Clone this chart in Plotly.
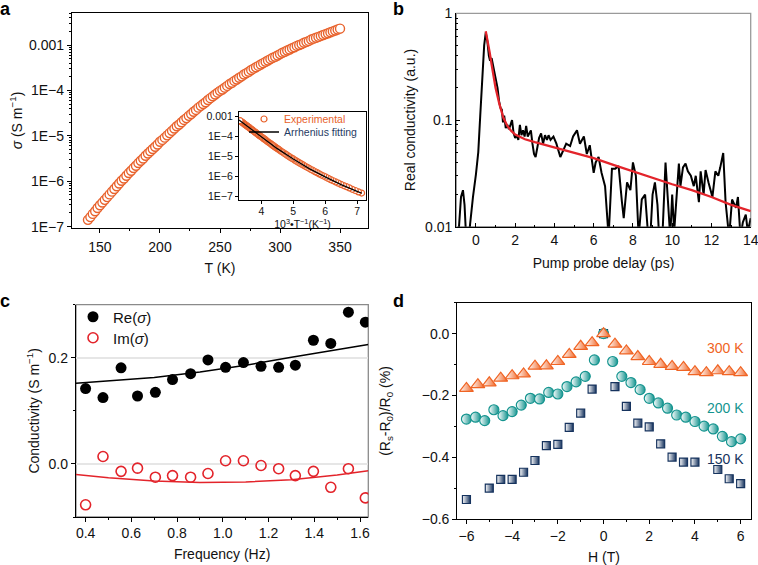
import plotly.graph_objects as go

# ---------------- data ----------------
# panel a : sigma(T)
T_K = [140, 142, 144, 146, 148, 150, 152, 154, 156, 158, 160, 162, 164, 166, 168, 170,
       172, 174, 176, 178, 180, 182, 184, 186, 188, 190, 192, 194, 196, 198, 200,
       202, 204, 206, 208, 210, 212, 214, 216, 218, 220, 222, 224, 226, 228, 230,
       232, 234, 236, 238, 240, 242, 244, 246, 248, 250, 252, 254, 256, 258, 260,
       262, 264, 266, 268, 270, 272, 274, 276, 278, 280, 282, 284, 286, 288, 290,
       292, 294, 296, 298, 300, 302, 304, 306, 308, 310, 312, 314, 316, 318, 320,
       322, 324, 326, 328, 330, 332, 334, 336, 338, 340, 342, 344, 346, 348, 350]
log10_sigma = [-6.85, -6.79, -6.72, -6.66, -6.59, -6.53, -6.47, -6.41, -6.35, -6.29, -6.23,
               -6.17, -6.11, -6.05, -5.99, -5.94, -5.88, -5.82, -5.77, -5.71, -5.66,
               -5.60, -5.55, -5.50, -5.44, -5.39, -5.34, -5.29, -5.24, -5.19, -5.13,
               -5.09, -5.04, -4.99, -4.94, -4.89, -4.84, -4.79, -4.75, -4.70, -4.65,
               -4.61, -4.56, -4.52, -4.47, -4.43, -4.38, -4.34, -4.30, -4.26, -4.21,
               -4.17, -4.13, -4.09, -4.05, -4.01, -3.98, -3.94, -3.90, -3.86, -3.83,
               -3.79, -3.76, -3.72, -3.69, -3.65, -3.62, -3.59, -3.55, -3.52, -3.49,
               -3.46, -3.43, -3.40, -3.37, -3.34, -3.31, -3.28, -3.26, -3.23, -3.20,
               -3.17, -3.15, -3.12, -3.10, -3.07, -3.05, -3.02, -3.00, -2.98, -2.95,
               -2.93, -2.91, -2.88, -2.86, -2.84, -2.82, -2.80, -2.78, -2.76, -2.74,
               -2.72, -2.70, -2.68, -2.66, -2.64]
sigma = [10 ** v for v in log10_sigma]

# inset : Arrhenius plot
inset_T = [t for t in T_K if t <= 300]
inset_x = [1000.0 / t for t in inset_T]
inset_sigma = [s for t, s in zip(T_K, sigma) if t <= 300]
arr_fit_x = [3.30, 3.60, 4.00, 4.50, 5.00, 5.50, 6.00, 6.50, 7.00, 7.15]
arr_fit_log = [-3.16, -3.53, -4.01, -4.61, -5.13, -5.62, -6.03, -6.42, -6.76, -6.86]
arr_fit_y = [10 ** v for v in arr_fit_log]

# panel b : transient conductivity
b_delay = [-1.0, -0.88, -0.76, -0.66, -0.58, -0.5, -0.4, -0.3, -0.15, 0.0, 0.12, 0.22, 0.32,
           0.42, 0.5, 0.58, 0.66, 0.72, 0.8, 0.86, 0.95, 1.03, 1.1, 1.18, 1.25, 1.32, 1.38,
           1.44, 1.52, 1.6, 1.68, 1.76, 1.84, 1.92, 2.0, 2.08, 2.16, 2.24, 2.32, 2.4, 2.48,
           2.56, 2.64, 2.72, 2.8, 2.88, 2.96, 3.04, 3.12, 3.22, 3.32, 3.42, 3.52, 3.62, 3.7,
           3.8, 3.95, 4.1, 4.3, 4.45, 4.6, 4.8, 4.95, 5.15, 5.3, 5.5, 5.65, 5.8, 6.0, 6.1,
           6.25, 6.4, 6.58, 6.76, 6.93, 7.1, 7.27, 7.44, 7.53, 7.7, 7.87, 8.0, 8.15, 8.29,
           8.45, 8.62, 8.78, 8.9, 9.0, 9.12, 9.25, 9.35, 9.5, 9.66, 9.8, 9.9, 10.0, 10.1,
           10.34, 10.42, 10.55, 10.68, 10.8, 10.95, 11.1, 11.2, 11.36, 11.45, 11.6, 11.7,
           11.85, 12.05, 12.2, 12.35, 12.45, 12.6, 12.72, 12.8, 12.9, 13.05, 13.25, 13.35,
           13.48, 13.6, 13.75, 13.85, 14.0]
b_real = [0.006, 0.009, 0.019, 0.022, 0.016, 0.008, 0.007, 0.011, 0.019, 0.031, 0.05, 0.11,
          0.25, 0.5, 0.66, 0.55, 0.40, 0.36, 0.38, 0.33, 0.27, 0.22, 0.2, 0.15, 0.13, 0.125,
          0.095, 0.11, 0.084, 0.09, 0.082, 0.09, 0.1, 0.075, 0.068, 0.072, 0.065, 0.09, 0.072,
          0.08, 0.07, 0.088, 0.07, 0.075, 0.08, 0.06, 0.048, 0.045, 0.055, 0.068, 0.075, 0.06,
          0.072, 0.065, 0.072, 0.065, 0.07, 0.06, 0.045, 0.052, 0.06, 0.057, 0.07, 0.08, 0.06,
          0.07, 0.048, 0.058, 0.032, 0.04, 0.045, 0.032, 0.024, 0.008, 0.035, 0.035, 0.037,
          0.017, 0.012, 0.026, 0.022, 0.04, 0.03, 0.008, 0.018, 0.02, 0.008, 0.009, 0.02,
          0.026, 0.016, 0.007, 0.008, 0.04, 0.017, 0.008, 0.02, 0.009, 0.039, 0.024, 0.036,
          0.039, 0.033, 0.03, 0.024, 0.03, 0.017, 0.033, 0.02, 0.034, 0.026, 0.019, 0.033,
          0.03, 0.036, 0.049, 0.017, 0.013, 0.008, 0.018, 0.015, 0.019, 0.008, 0.011, 0.013,
          0.009, 0.012]
b_fit_delay = [0.5, 0.6, 0.7, 0.8, 0.9, 1.0, 1.2, 1.4, 1.6, 1.8, 2.0, 2.5, 3.0, 4.0, 5.0,
               6.0, 7.0, 8.0, 9.0, 10.0, 11.0, 12.0, 13.0, 14.0]
b_fit = [0.68, 0.55, 0.43, 0.33, 0.26, 0.20, 0.14, 0.105, 0.088, 0.079, 0.073, 0.066, 0.062,
         0.055, 0.049, 0.044, 0.038, 0.033, 0.029, 0.025, 0.022, 0.019, 0.016, 0.014]

# panel c : complex conductivity
c_freq = [0.400, 0.476, 0.555, 0.627, 0.705, 0.780, 0.859, 0.935, 1.012, 1.090, 1.167,
          1.244, 1.317, 1.396, 1.472, 1.549, 1.623]
c_re = [0.142, 0.125, 0.181, 0.128, 0.135, 0.159, 0.170, 0.196, 0.182, 0.191, 0.184,
        0.182, 0.186, 0.233, 0.227, 0.286, 0.267]
c_im = [-0.077, 0.014, -0.014, -0.008, -0.025, -0.022, -0.025, -0.018, 0.006, 0.006,
        -0.003, -0.009, -0.022, -0.014, -0.044, -0.009, -0.064]
c_fit_freq = [0.358, 0.5, 0.7, 0.9, 1.1, 1.3, 1.5, 1.636]
c_re_fit = [0.152, 0.156, 0.163, 0.173, 0.186, 0.201, 0.215, 0.225]
c_im_fit = [-0.020, -0.026, -0.032, -0.035, -0.034, -0.030, -0.021, -0.013]

# panel d : magnetoresistance
H_300 = [-6, -5.5, -5, -4.5, -4, -3.5, -3, -2.5, -2, -1.5, -1, -0.5, 0, 0.5, 1, 1.5, 2,
         2.5, 3, 3.5, 4, 4.5, 5, 5.5, 6]
MR_300 = [-0.177, -0.165, -0.159, -0.144, -0.136, -0.130, -0.105, -0.104, -0.090, -0.067,
          -0.041, -0.029, 0.0, -0.034, -0.056, -0.074, -0.090, -0.099, -0.106, -0.109,
          -0.123, -0.126, -0.120, -0.123, -0.126]
H_200 = [-6, -5.6, -5.2, -4.8, -4.4, -4, -3.6, -3.2, -2.8, -2.4, -2, -1.6, -1.2, -0.8,
         -0.4, 0, 0.4, 0.8, 1.2, 1.6, 2, 2.4, 2.8, 3.2, 3.6, 4, 4.4, 4.8, 5.2, 5.6, 6]
MR_200 = [-0.276, -0.270, -0.281, -0.246, -0.265, -0.252, -0.231, -0.209, -0.211, -0.190,
          -0.195, -0.171, -0.156, -0.138, -0.085, 0.0, -0.090, -0.138, -0.158, -0.181,
          -0.209, -0.224, -0.241, -0.263, -0.270, -0.284, -0.299, -0.308, -0.332, -0.349,
          -0.340]
H_150 = [-6, -5, -4.5, -4, -3.5, -3, -2.5, -2, -1.5, -1, -0.5, 0, 0.5, 1, 1.5, 2, 2.5, 3,
         3.5, 4, 5, 5.5, 6]
MR_150 = [-0.536, -0.499, -0.471, -0.471, -0.448, -0.410, -0.362, -0.358, -0.303, -0.257,
          -0.179, 0.0, -0.171, -0.235, -0.289, -0.301, -0.356, -0.399, -0.415, -0.415,
          -0.439, -0.469, -0.485]

# ---------------- styling ----------------
FONT = "Liberation Sans, Arial, Helvetica, sans-serif"
ORANGE_A = "#E8622C"
ORANGE_D = "#F06424"
TEAL = "#14948F"
NAVY = "#16335E"
RED = "#E3242B"

fig = go.Figure()

# panel a
fig.add_trace(go.Scatter(x=T_K, y=sigma, mode="markers", xaxis="x", yaxis="y", showlegend=False,
                         marker=dict(symbol="circle", size=9, color="white",
                                     line=dict(color=ORANGE_A, width=1.4))))
# inset
fig.add_trace(go.Scatter(x=inset_x, y=inset_sigma, mode="markers", xaxis="x5", yaxis="y5",
                         name="<span style='color:%s'>Experimental</span>" % ORANGE_A,
                         legend="legend",
                         marker=dict(symbol="circle", size=6, color="white",
                                     line=dict(color=ORANGE_A, width=1.2))))
fig.add_trace(go.Scatter(x=arr_fit_x, y=arr_fit_y, mode="lines", xaxis="x5", yaxis="y5",
                         name="<span style='color:#1F3B63'>Arrhenius fitting</span>",
                         legend="legend3", line=dict(color="black", width=1.3)))

# panel b
fig.add_trace(go.Scatter(x=b_delay, y=b_real, mode="lines", xaxis="x2", yaxis="y2",
                         showlegend=False, line=dict(color="black", width=2)))
fig.add_trace(go.Scatter(x=b_fit_delay, y=b_fit, mode="lines", xaxis="x2", yaxis="y2",
                         showlegend=False, line=dict(color=RED, width=2.3)))

# panel c
fig.add_trace(go.Scatter(x=c_fit_freq, y=c_re_fit, mode="lines", xaxis="x3", yaxis="y3",
                         showlegend=False, line=dict(color="black", width=1.5)))
fig.add_trace(go.Scatter(x=c_fit_freq, y=c_im_fit, mode="lines", xaxis="x3", yaxis="y3",
                         showlegend=False, line=dict(color=RED, width=1.5)))
fig.add_trace(go.Scatter(x=c_freq, y=c_re, mode="markers", xaxis="x3", yaxis="y3",
                         name="Re(<i>σ</i>)", legend="legend2",
                         marker=dict(symbol="circle", size=11, color="black")))
fig.add_trace(go.Scatter(x=c_freq, y=c_im, mode="markers", xaxis="x3", yaxis="y3",
                         name="Im(<i>σ</i>)", legend="legend4",
                         marker=dict(symbol="circle-open", size=10, color=RED,
                                     line=dict(width=1.6))))

# panel d
for H, MR, sym, col, size in [(H_150, MR_150, "square", NAVY, 8),
                               (H_200, MR_200, "circle", TEAL, 10),
                               (H_300, MR_300, "triangle-up", ORANGE_D, 12)]:
    fig.add_trace(go.Scatter(x=H, y=MR, mode="markers", xaxis="x4", yaxis="y4",
                             showlegend=False,
                             marker=dict(symbol=sym, size=size, color="white",
                                         gradient=dict(type="horizontal", color=col),
                                         line=dict(color=col, width=1.2))))


def axis(**kw):
    base = dict(showline=True, linecolor="black", linewidth=1.3, ticks="outside",
                ticklen=4, tickwidth=1, tickcolor="black", showgrid=False, zeroline=False,
                automargin=False, ticklabeloverflow="allow",
                tickfont=dict(size=14, color="#111"), title=dict(font=dict(size=14, color="#111")))
    for k, v in kw.items():
        if k == "title_text":
            base["title"]["text"] = v
        elif k == "title_standoff":
            base["title"]["standoff"] = v
        elif k == "title_size":
            base["title"]["font"]["size"] = v
        else:
            base[k] = v
    return base


W, Hh = 758, 565
def dx(a, b):
    return [a / W, b / W]
def dy(top, bottom):
    return [1 - bottom / Hh, 1 - top / Hh]

def leg(x, y, size):
    return dict(x=x / W, y=1 - y / Hh, xanchor="left", yanchor="middle",
                bgcolor="rgba(0,0,0,0)", font=dict(size=size), tracegroupgap=0,
                itemwidth=30)

layout = dict(
    width=W, height=Hh, margin=dict(l=0, r=0, t=0, b=0, autoexpand=False),
    paper_bgcolor="white", plot_bgcolor="white",
    font=dict(family=FONT, color="#111"),
    # panel a
    xaxis=axis(domain=dx(72, 368), anchor="y", range=[126.7, 373.3], mirror=True,
               tickvals=[150, 200, 250, 300, 350], title_text="T (K)", title_standoff=9,
               ticklabelstandoff=2,
               minor=dict(ticks="outside", ticklen=2, dtick=25)),
    yaxis=axis(domain=dy(13, 228), anchor="x", type="log", range=[-7.03, -2.295], mirror=True,
               tickvals=[1e-7, 1e-6, 1e-5, 1e-4, 1e-3],
               ticktext=["1E−7", "1E−6", "1E−5", "1E−4", "0.001"],
               title_text="<i>σ</i> (S m<sup>−1</sup>)", title_standoff=3,
               minor=dict(ticks="outside", ticklen=2, dtick="D1")),
    # inset
    xaxis5=axis(domain=dx(239, 366), anchor="y5", range=[3.3, 7.28], mirror=True,
                tickvals=[4, 5, 6, 7], ticklen=3, tickfont=dict(size=10.5, color="#111"),
                ticklabelstandoff=-2,
                title_text="10<sup>3</sup>•T<sup>−1</sup>(K<sup>−1</sup>)", title_standoff=0,
                title_size=10.5),
    yaxis5=axis(domain=dy(112, 200), anchor="x5", type="log", range=[-7.2, -2.76], mirror=True,
                tickvals=[1e-7, 1e-6, 1e-5, 1e-4, 1e-3], ticklen=3,
                ticktext=["1E−7", "1E−6", "1E−5", "1E−4", "0.001"],
                tickfont=dict(size=10.5, color="#111")),
    # panel b
    xaxis2=axis(domain=dx(456.3, 750.7), anchor="y2", range=[-1, 14], dtick=2, tick0=0,
                ticks="inside", title_text="Pump probe delay (ps)", title_standoff=11,
                minor=dict(ticks="inside", ticklen=2, dtick=1)),
    yaxis2=axis(domain=dy(13.3, 226.7), anchor="x2", type="log", range=[-2, 0],
                ticks="inside", tickvals=[0.01, 0.1, 1], ticktext=["0.01", "0.1", "1"],
                title_text="Real conductivity (a.u.)", title_standoff=6,
                minor=dict(ticks="inside", ticklen=2, dtick="D1")),
    # panel c
    xaxis3=axis(domain=dx(76, 368.3), anchor="y3", range=[0.358, 1.636], dtick=0.2, tick0=0.4,
                tickformat=".1f", title_text="Frequency (Hz)", title_standoff=9,
                ticklabelstandoff=-1,
                minor=dict(ticks="outside", ticklen=2, dtick=0.1)),
    yaxis3=axis(domain=dy(304.7, 517), anchor="x3", range=[-0.1, 0.3], dtick=0.2, tick0=0,
                tickformat=".1f", showgrid=True, gridcolor="#E6E6E6", gridwidth=1.5,
                title_text="Conductivity (S m<sup>−1</sup>)", title_standoff=5,
                minor=dict(ticks="outside", ticklen=2, dtick=0.1)),
    # panel d
    xaxis4=axis(domain=dx(457.3, 750.7), anchor="y4", range=[-6.4, 6.44], dtick=2, tick0=0,
                mirror=True, title_text="H (T)", title_standoff=8,
                minor=dict(ticks="outside", ticklen=2, dtick=1)),
    yaxis4=axis(domain=dy(302.7, 519.3), anchor="x4", range=[-0.6, 0.1], dtick=0.2, tick0=0,
                tickformat=".1f", mirror=True, title_standoff=27,
                title_text="(R<sub>s</sub>-R<sub>0</sub>)/R<sub>0</sub> (%)",
                minor=dict(ticks="outside", ticklen=2, dtick=0.1)),
    legend=leg(244, 119, 10.5),
    legend3=leg(244, 132, 10.5),
    legend2=leg(73, 317, 15),
    legend4=leg(73, 338, 15),
    shapes=[
        dict(type="rect", xref="x2 domain", yref="y2 domain", x0=0, x1=1, y0=0, y1=1,
             line=dict(color="#9A9A9A", width=1.3), layer="below"),
        dict(type="rect", xref="x3 domain", yref="y3 domain", x0=0, x1=1, y0=0, y1=1,
             line=dict(color="#8A8A8A", width=1.3), layer="below"),
    ],
    annotations=[
        dict(text="<b>a</b>", x=5 / W, y=1 - 9 / Hh, xref="paper", yref="paper",
             showarrow=False, font=dict(size=18, color="black"), xanchor="center", yanchor="middle"),
        dict(text="<b>b</b>", x=398 / W, y=1 - 9 / Hh, xref="paper", yref="paper",
             showarrow=False, font=dict(size=18, color="black"), xanchor="center", yanchor="middle"),
        dict(text="<b>c</b>", x=5 / W, y=1 - 301 / Hh, xref="paper", yref="paper",
             showarrow=False, font=dict(size=18, color="black"), xanchor="center", yanchor="middle"),
        dict(text="<b>d</b>", x=398 / W, y=1 - 301 / Hh, xref="paper", yref="paper",
             showarrow=False, font=dict(size=18, color="black"), xanchor="center", yanchor="middle"),
        dict(text="300 K", x=746 / W, y=1 - 348 / Hh, xref="paper", yref="paper",
             showarrow=False, font=dict(size=14, color=ORANGE_D), xanchor="right", yanchor="middle"),
        dict(text="200 K", x=746 / W, y=1 - 408 / Hh, xref="paper", yref="paper",
             showarrow=False, font=dict(size=14, color=TEAL), xanchor="right", yanchor="middle"),
        dict(text="150 K", x=746 / W, y=1 - 459 / Hh, xref="paper", yref="paper",
             showarrow=False, font=dict(size=14, color=NAVY), xanchor="right", yanchor="middle"),
    ],
)
fig.update_layout(**layout)
fig.write_html("out.html", config={"displayModeBar": False},
               post_script="document.body.style.margin='0px';document.body.style.padding='0px';")
